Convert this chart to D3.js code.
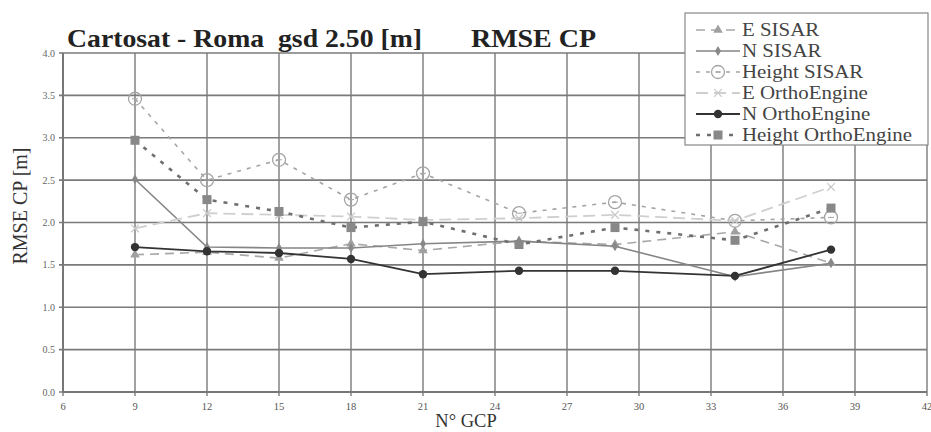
<!DOCTYPE html>
<html>
<head>
<meta charset="utf-8">
<script src="https://cdn.jsdelivr.net/npm/d3@7.9.0/dist/d3.min.js"></script>
<style>
  body { margin: 0; background: #fff; }
  svg { display: block; font-family: "Liberation Serif", "Times New Roman", serif; }
</style>
</head>
<body>
<svg id="chart" width="931" height="432"></svg>
<script>
// number of GCPs
const gcp = [9, 12, 15, 18, 21, 25, 29, 34, 38];

const eSisar = [1.62, 1.65, 1.58, 1.75, 1.67, 1.78, 1.74, 1.89, 1.52];
const nSisar = [2.51, 1.71, 1.70, 1.70, 1.75, 1.78, 1.72, 1.36, 1.52];
const hSisar = [3.46, 2.50, 2.74, 2.27, 2.58, 2.11, 2.24, 2.02, 2.06];
const eOrtho = [1.93, 2.11, 2.09, 2.07, 2.03, 2.05, 2.09, 2.02, 2.42];
const nOrtho = [1.71, 1.66, 1.64, 1.57, 1.39, 1.43, 1.43, 1.37, 1.68];
const hOrtho = [2.97, 2.27, 2.13, 1.94, 2.01, 1.74, 1.94, 1.79, 2.17];

const xTicks = [6, 9, 12, 15, 18, 21, 24, 27, 30, 33, 36, 39, 42];
const yTicks = [0, 0.5, 1, 1.5, 2, 2.5, 3, 3.5, 4];

const series = [
  { name: 'E SISAR', values: eSisar, color: '#a8a8a8', width: 1.6, dash: '9,6', marker: 'triangle', mColor: '#a0a0a0' },
  { name: 'N SISAR', values: nSisar, color: '#858585', width: 1.6, dash: null, marker: 'diamond', mColor: '#888' },
  { name: 'Height SISAR', values: hSisar, color: '#a5a5a5', width: 1.6, dash: '4,6', marker: 'circle', mColor: '#a5a5a5' },
  { name: 'E OrthoEngine', values: eOrtho, color: '#cfcfcf', width: 1.8, dash: '12,6', marker: 'star', mColor: '#c8c8c8' },
  { name: 'N OrthoEngine', values: nOrtho, color: '#333', width: 1.8, dash: null, marker: 'dot', mColor: '#333' },
  { name: 'Height OrthoEngine', values: hOrtho, color: '#6f6f6f', width: 2.6, dash: '4,7', marker: 'square', mColor: '#888' }
];

const svg = d3.select('#chart');
const pLeft = 63, pRight = 927, pTop = 53, pBottom = 392;

const x = d3.scaleLinear().domain([6, 42]).range([pLeft, pRight]);
const y = d3.scaleLinear().domain([0, 4]).range([pBottom, pTop]);

// grid
svg.append('g')
  .selectAll('line')
  .data(xTicks)
  .join('line')
  .attr('x1', d => x(d)).attr('x2', d => x(d))
  .attr('y1', pTop).attr('y2', pBottom + 4)
  .attr('stroke', '#7a7a7a').attr('stroke-width', 1.4);

svg.append('g')
  .selectAll('line')
  .data(yTicks)
  .join('line')
  .attr('x1', pLeft - 4).attr('x2', pRight)
  .attr('y1', d => y(d)).attr('y2', d => y(d))
  .attr('stroke', '#7a7a7a').attr('stroke-width', 1.6);

// axes lines a bit heavier
svg.append('line').attr('x1', pLeft).attr('x2', pLeft).attr('y1', pTop).attr('y2', pBottom)
  .attr('stroke', '#777').attr('stroke-width', 2);
svg.append('line').attr('x1', pLeft).attr('x2', pRight).attr('y1', pBottom).attr('y2', pBottom)
  .attr('stroke', '#777').attr('stroke-width', 2);

// tick labels
svg.append('g')
  .selectAll('text')
  .data(yTicks)
  .join('text')
  .attr('x', pLeft - 8).attr('y', d => y(d) + 3.5)
  .attr('text-anchor', 'end')
  .attr('font-size', 10).attr('fill', '#666')
  .text(d => d.toFixed(1));

svg.append('g')
  .selectAll('text')
  .data(xTicks)
  .join('text')
  .attr('x', d => x(d)).attr('y', pBottom + 18)
  .attr('text-anchor', 'middle')
  .attr('font-size', 10.5).attr('fill', '#555')
  .text(d => d);

// titles
svg.append('text').attr('x', 67).attr('y', 47)
  .attr('font-size', 26).attr('font-weight', 'bold').attr('fill', '#222')
  .attr('textLength', 355).attr('lengthAdjust', 'spacingAndGlyphs')
  .style('white-space', 'pre')
  .text('Cartosat - Roma  gsd 2.50 [m]');
svg.append('text').attr('x', 471).attr('y', 47)
  .attr('font-size', 26).attr('font-weight', 'bold').attr('fill', '#222')
  .attr('textLength', 125).attr('lengthAdjust', 'spacingAndGlyphs')
  .text('RMSE CP');

svg.append('text')
  .attr('transform', 'translate(27,206) rotate(-90)')
  .attr('text-anchor', 'middle')
  .attr('font-size', 20).attr('fill', '#333')
  .text('RMSE CP [m]');

svg.append('text').attr('x', 466).attr('y', 427)
  .attr('text-anchor', 'middle')
  .attr('font-size', 18.5).attr('fill', '#333')
  .text('N° GCP');

// markers
function drawMarker(g, type, cx, cy, color) {
  if (type === 'triangle') {
    g.append('path').attr('d', d3.symbol(d3.symbolTriangle, 40)())
      .attr('transform', `translate(${cx},${cy})`).attr('fill', color);
  } else if (type === 'diamond') {
    g.append('path').attr('d', d3.symbol(d3.symbolDiamond, 30)())
      .attr('transform', `translate(${cx},${cy})`).attr('fill', color);
  } else if (type === 'circle') {
    g.append('circle').attr('cx', cx).attr('cy', cy).attr('r', 6.5)
      .attr('fill', 'none').attr('stroke', color).attr('stroke-width', 1.3);
    g.append('line').attr('x1', cx - 3).attr('x2', cx + 3).attr('y1', cy).attr('y2', cy)
      .attr('stroke', color).attr('stroke-width', 1);
  } else if (type === 'star') {
    g.append('path').attr('d', d3.symbol(d3.symbolTimes, 40)())
      .attr('transform', `translate(${cx},${cy})`).attr('fill', 'none')
      .attr('stroke', color).attr('stroke-width', 1.2);
  } else if (type === 'dot') {
    g.append('circle').attr('cx', cx).attr('cy', cy).attr('r', 4.2).attr('fill', color);
  } else if (type === 'square') {
    g.append('rect').attr('x', cx - 4.5).attr('y', cy - 4.5).attr('width', 9).attr('height', 9)
      .attr('fill', color);
  }
}

const line = d3.line().x(d => x(d[0])).y(d => y(d[1]));

series.forEach(s => {
  const pts = gcp.map((g, i) => [g, s.values[i]]);
  const g = svg.append('g');
  g.append('path')
    .attr('d', line(pts))
    .attr('fill', 'none')
    .attr('stroke', s.color)
    .attr('stroke-width', s.width)
    .attr('stroke-dasharray', s.dash);
  pts.forEach(p => drawMarker(g, s.marker, x(p[0]), y(p[1]), s.mColor));
});

// legend
const lg = svg.append('g');
lg.append('rect').attr('x', 685).attr('y', 13).attr('width', 243).attr('height', 132)
  .attr('fill', '#fff').attr('stroke', '#888').attr('stroke-width', 1.2);

series.forEach((s, i) => {
  const ly = 30 + i * 21;
  lg.append('line').attr('x1', 696).attr('x2', 740).attr('y1', ly).attr('y2', ly)
    .attr('stroke', s.color).attr('stroke-width', s.width)
    .attr('stroke-dasharray', s.dash);
  drawMarker(lg, s.marker, 718, ly, s.mColor);
  lg.append('text')
    .attr('transform', `translate(742,${ly + 6}) scale(1.13,1)`)
    .attr('font-size', 18.5).attr('fill', '#444')
    .text(s.name);
});
</script>
</body>
</html>
